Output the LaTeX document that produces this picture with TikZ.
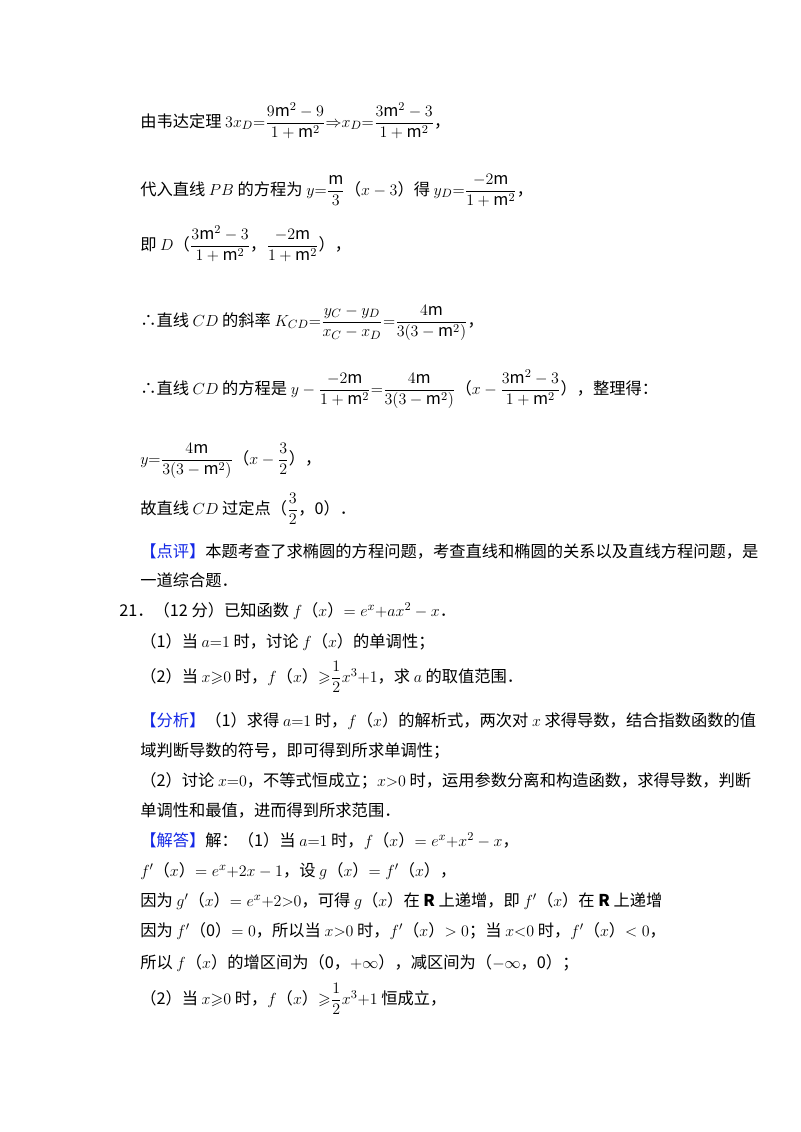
\documentclass[tikz,border=0pt]{standalone}
\usepackage{amsmath,amssymb}
\usepackage{fontspec}
\setmainfont{Noto Sans CJK SC}
\definecolor{kblue}{RGB}{20,40,230}
\newcommand{\mm}{\mathrm{m}}
\newcommand{\kw}[1]{\textcolor{kblue}{#1}}
\begin{document}
\begin{tikzpicture}[x=0.75pt,y=-0.75pt,
  ln/.style={anchor=base west,inner sep=0pt,font=\fontsize{12.2}{14}\selectfont}]
\useasboundingbox (0,0) rectangle (800,1132);
\fill[white] (0,0) rectangle (800,1132);
\node[ln] (l1) at (140,127) {由韦达定理 $3x_D{=}\dfrac{9\mm^2-9}{1+\mm^2}{\Rightarrow}x_D{=}\dfrac{3\mm^2-3}{1+\mm^2}$，};
\node[ln] (l2) at (140,195) {代入直线 $PB$ 的方程为 $y{=}\dfrac{\mm}{3}$（$x-3$）得 $y_D{=}\dfrac{-2\mm}{1+\mm^2}$，};
\node[ln] (l3) at (140,250) {即 $D$（$\dfrac{3\mm^2-3}{1+\mm^2}$，$\dfrac{-2\mm}{1+\mm^2}$），};
\node[ln] (l4) at (140,326) {∴直线 $CD$ 的斜率 $K_{CD}{=}\dfrac{y_C-y_D}{x_C-x_D}{=}\dfrac{4\mm}{3(3-\mm^2)}$，};
\node[ln] (l5) at (140,394) {∴直线 $CD$ 的方程是 $y-\dfrac{-2\mm}{1+\mm^2}{=}\dfrac{4\mm}{3(3-\mm^2)}$（$x-\dfrac{3\mm^2-3}{1+\mm^2}$），整理得：};
\node[ln] (l6) at (140,464) {$y{=}\dfrac{4\mm}{3(3-\mm^2)}$（$x-\dfrac{3}{2}$），};
\node[ln] (l7) at (140,514) {故直线 $CD$ 过定点（$\dfrac{3}{2}$，0）．};
\node[ln] (l8) at (140,557) {\kw{【点评】}本题考查了求椭圆的方程问题，考查直线和椭圆的关系以及直线方程问题，是};
\node[ln] (l9) at (140,586) {一道综合题．};
\node[ln] (l10) at (119,616) {21．（12 分）已知函数 $f$（$x$）$=e^x{+}ax^2-x$．};
\node[ln] (l11) at (140,647) {（1）当 $a{=}1$ 时，讨论 $f$（$x$）的单调性；};
\node[ln] (l12) at (140,682) {（2）当 $x{\geqslant}0$ 时，$f$（$x$）${\geqslant}\dfrac{1}{2}x^3{+}1$，求 $a$ 的取值范围．};
\node[ln] (l13) at (140,726) {\kw{【分析】}（1）求得 $a{=}1$ 时，$f$（$x$）的解析式，两次对 $x$ 求得导数，结合指数函数的值};
\node[ln] (l14) at (140,756) {域判断导数的符号，即可得到所求单调性；};
\node[ln] (l15) at (140,786) {（2）讨论 $x{=}0$，不等式恒成立；$x{>}0$ 时，运用参数分离和构造函数，求得导数，判断};
\node[ln] (l16) at (140,816) {单调性和最值，进而得到所求范围．};
\node[ln] (l17) at (140,846) {\kw{【解答】}解：（1）当 $a{=}1$ 时，$f$（$x$）$=e^x{+}x^2-x$，};
\node[ln] (l18) at (140,876) {$f'$（$x$）$=e^x{+}2x-1$，设 $g$（$x$）$=f'$（$x$），};
\node[ln] (l19) at (140,906) {因为 $g'$（$x$）$=e^x{+}2{>}0$，可得 $g$（$x$）在 $\mathbf{R}$ 上递增，即 $f'$（$x$）在 $\mathbf{R}$ 上递增};
\node[ln] (l20) at (140,936) {因为 $f'$（0）$=0$，所以当 $x{>}0$ 时，$f'$（$x$）$>0$；当 $x{<}0$ 时，$f'$（$x$）$<0$，};
\node[ln] (l21) at (140,968) {所以 $f$（$x$）的增区间为（0，$+\infty$），减区间为（$-\infty$，0）；};
\node[ln] (l22) at (140,1004) {（2）当 $x{\geqslant}0$ 时，$f$（$x$）${\geqslant}\dfrac{1}{2}x^3{+}1$ 恒成立，};
\end{tikzpicture}
\end{document}
